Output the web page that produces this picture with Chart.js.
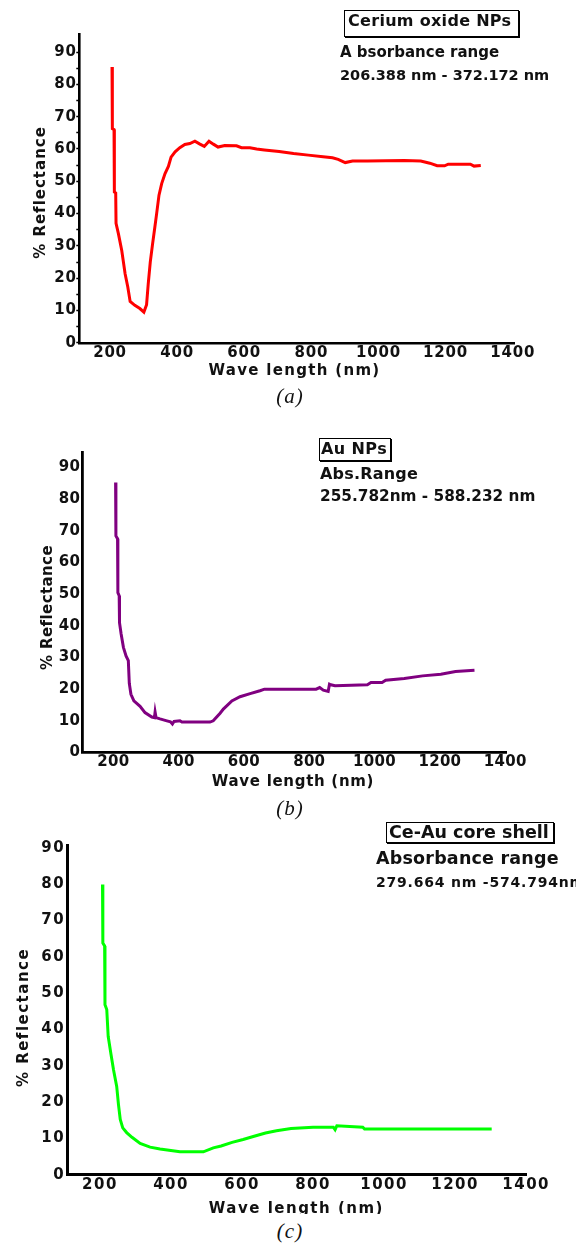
<!DOCTYPE html>
<html>
<head>
<meta charset="utf-8">
<script src="https://cdn.jsdelivr.net/npm/chart.js@4.4.1/dist/chart.umd.min.js"></script>
<style>
html,body{margin:0;padding:0;background:#fff;}
body{width:576px;height:1243px;position:relative;overflow:hidden;font-family:"DejaVu Sans","Liberation Sans",Arial,sans-serif;}
canvas{position:absolute;left:0;}
.t{position:absolute;white-space:nowrap;font-weight:bold;color:#111;line-height:1;}
.box{position:absolute;border:1px solid #000;box-shadow:1px 1px 0 #000;box-sizing:border-box;}
.cap{position:absolute;font-family:"Liberation Serif","Times New Roman",serif;font-style:italic;font-size:21px;letter-spacing:1px;color:#111;line-height:1;transform:translate(-50%,-50%);}
</style>
</head>
<body>
<canvas id="ca" width="576" height="410" style="top:0px"></canvas>
<canvas id="cb" width="576" height="405" style="top:410px"></canvas>
<canvas id="cc" width="576" height="399" style="top:815px"></canvas>

<div class="box" style="left:344px;top:10px;width:175px;height:27px;"></div>
<div class="t" style="left:348px;top:13px;font-size:16px;letter-spacing:0.3px;">Cerium oxide NPs</div>
<div class="t" style="left:340px;top:45px;font-size:15px;">A bsorbance range</div>
<div class="t" style="left:340px;top:67.5px;font-size:14.5px;">206.388 nm - 372.172 nm</div>
<div class="cap" style="left:290px;top:396px;">(a)</div>

<div class="box" style="left:319px;top:438px;width:72px;height:23px;"></div>
<div class="t" style="left:321px;top:441px;font-size:16px;letter-spacing:0.4px;">Au NPs</div>
<div class="t" style="left:320px;top:466px;font-size:16px;letter-spacing:0.2px;">Abs.Range</div>
<div class="t" style="left:320px;top:489px;font-size:15.3px;">255.782nm - 588.232 nm</div>
<div class="cap" style="left:290px;top:808px;">(b)</div>

<div class="box" style="left:386px;top:822px;width:168px;height:21px;"></div>
<div class="t" style="left:389px;top:823.5px;font-size:17.5px;">Ce-Au core shell</div>
<div class="t" style="left:376px;top:849.5px;font-size:17.5px;letter-spacing:0.2px;">Absorbance range</div>
<div class="t" style="left:376px;top:875px;font-size:14px;letter-spacing:0.8px;">279.664 nm -574.794nm</div>
<div class="cap" style="left:290px;top:1231px;">(c)</div>

<script>
// ---- tick labels ----
const xTicks = [200, 400, 600, 800, 1000, 1200, 1400];
const yTicks = [0, 10, 20, 30, 40, 50, 60, 70, 80, 90];
const yMinorTicks = [5, 15, 25, 35, 45, 55, 65, 75, 85];

const xTitle = 'Wave length (nm)';
const yTitle = '% Reflectance';

// ---- (a) Cerium oxide NPs ----
const ceriumWavelength = [206, 207, 212, 213, 217, 218, 225, 235, 245, 253, 260, 274, 289, 301, 309, 314, 320, 327, 333, 339, 346, 354, 364, 374, 382, 394, 408, 423, 438, 453, 468, 481, 495, 508, 522, 542, 577, 592, 617, 637, 660, 704, 747, 791, 835, 863, 880, 901, 923, 967, 1077, 1126, 1153, 1175, 1197, 1208, 1274, 1285, 1305];
const ceriumReflectance = [85.4, 66.3, 66.0, 46.7, 46.4, 37.0, 33.8, 28.6, 21.4, 17.3, 12.8, 11.6, 10.6, 9.5, 11.8, 18.3, 25.0, 30.7, 35.3, 40.0, 45.7, 49.3, 52.4, 54.6, 57.5, 59.1, 60.4, 61.4, 61.7, 62.4, 61.5, 60.8, 62.4, 61.5, 60.6, 61.1, 61.0, 60.4, 60.4, 60.0, 59.7, 59.2, 58.6, 58.1, 57.6, 57.3, 56.8, 55.8, 56.3, 56.3, 56.4, 56.3, 55.6, 54.8, 54.8, 55.3, 55.3, 54.7, 54.9];

// ---- (b) Au NPs ----
const auWavelength = [207, 208, 213, 214, 218, 219, 224, 231, 239, 246, 249, 254, 263, 282, 297, 318, 326, 328, 331, 343, 364, 375, 381, 386, 404, 410, 496, 506, 527, 537, 563, 588, 619, 649, 663, 821, 832, 843, 858, 862, 866, 879, 978, 989, 1023, 1034, 1091, 1147, 1203, 1248, 1306];
const auReflectance = [85.3, 68.4, 67.5, 50.5, 49.5, 41.0, 37.4, 33.2, 30.5, 29.0, 21.8, 18.4, 16.3, 14.6, 12.6, 11.2, 11.0, 12.8, 11.0, 10.6, 10.0, 9.7, 9.0, 9.8, 10.0, 9.6, 9.6, 10.0, 12.4, 13.7, 16.3, 17.6, 18.6, 19.5, 20.0, 20.0, 20.5, 19.7, 19.3, 21.6, 21.4, 21.1, 21.4, 22.1, 22.1, 22.8, 23.4, 24.2, 24.7, 25.6, 26.0];

// ---- (c) Ce-Au core shell ----
const coreShellWavelength = [207, 208, 213, 214, 219, 223, 231, 238, 247, 252, 257, 264, 275, 290, 313, 341, 369, 425, 491, 519, 541, 572, 603, 634, 666, 697, 738, 800, 857, 862, 867, 940, 945, 1303];
const coreShellReflectance = [79.9, 63.8, 63.0, 46.8, 45.5, 38.1, 33.1, 28.9, 24.3, 19.3, 15.2, 12.9, 11.6, 10.3, 8.6, 7.6, 7.1, 6.3, 6.3, 7.4, 7.9, 8.9, 9.7, 10.6, 11.5, 12.1, 12.7, 13.1, 13.1, 12.4, 13.5, 13.1, 12.6, 12.6];

const FONT = '"DejaVu Sans", "Liberation Sans", Arial, sans-serif';

function toPoints(xs, ys) { return xs.map((x, i) => ({ x: x, y: ys[i] })); }

function panel(o) {
  const H = o.canvasH;
  const textPlugin = {
    id: 'txt',
    beforeUpdate(chart) { chart.ctx.letterSpacing = o.tickSpacing + 'px'; },
    beforeDraw(chart) { chart.ctx.letterSpacing = o.tickSpacing + 'px'; },
    afterDraw(chart) {
      const c = chart.ctx;
      c.save();
      c.fillStyle = '#111';
      c.font = 'bold 15px ' + FONT;
      c.textAlign = 'center';
      c.textBaseline = 'middle';
      c.letterSpacing = o.xTitleSpacing + 'px';
      c.fillText(xTitle, o.xTitlePos[0], o.xTitlePos[1] - o.canvasTop);
      c.letterSpacing = o.yTitleSpacing + 'px';
      c.translate(o.yTitlePos[0], o.yTitlePos[1] - o.canvasTop);
      c.rotate(-Math.PI / 2);
      c.fillText(yTitle, 0, 0);
      c.restore();
    }
  };
  const tickFont = { family: FONT, size: 15, weight: 'bold' };
  return new Chart(document.getElementById(o.id), {
    type: 'line',
    data: { datasets: [{ data: toPoints(o.xs, o.ys), borderColor: o.color, borderWidth: 3, pointRadius: 0, tension: 0, fill: false, borderJoinStyle: 'miter' }] },
    options: {
      responsive: false, animation: false, devicePixelRatio: 1,
      layout: { padding: { left: 0, top: o.top - o.canvasTop, right: 576 - o.right, bottom: 0 } },
      plugins: { legend: { display: false }, tooltip: { enabled: false }, title: { display: false } },
      scales: {
        x: {
          type: 'linear', position: 'bottom', min: o.xMin, max: o.xMax,
          afterBuildTicks(s) { s.ticks = xTicks.map(v => ({ value: v })); },
          afterFit(s) { s.height = H - (o.bottom - o.canvasTop); },
          grid: { display: true, drawOnChartArea: false, drawTicks: false },
          border: { display: true, color: '#000', width: o.bw },
          ticks: { autoSkip: false, maxRotation: 0, minRotation: 0, padding: o.xPad, color: '#111', font: tickFont,
            callback: (v) => String(v) }
        },
        y: {
          type: 'linear', position: 'left', min: 0, max: o.yMax,
          afterBuildTicks(s) { s.ticks = o.yTickValues.map(v => ({ value: v })); },
          afterFit(s) { s.width = o.left; },
          grid: { display: true, drawOnChartArea: false, drawTicks: o.yTickMarks, tickLength: 3, tickColor: '#000', tickWidth: 1.5 },
          border: { display: true, color: '#000', width: o.bw },
          ticks: { autoSkip: false, padding: o.yPad, color: '#111', font: tickFont,
            callback: (v) => yTicks.includes(v) ? String(v) : '' }
        }
      }
    },
    plugins: [textPlugin]
  });
}

panel({ id: 'ca', canvasTop: 0, canvasH: 410, left: 79.3, right: 514, top: 34, bottom: 342.8,
  xMin: 108.5, xMax: 1404, yMax: 95.6, color: '#ff0000', bw: 2.6,
  xs: ceriumWavelength, ys: ceriumReflectance,
  yTickValues: yTicks.concat(yMinorTicks).sort((a, b) => a - b), yTickMarks: true,
  tickSpacing: 0.8, xPad: 1, yPad: -0.5,
  xTitlePos: [294.5, 371], xTitleSpacing: 1.3, yTitlePos: [41.5, 192.5], yTitleSpacing: 1.0 });

panel({ id: 'cb', canvasTop: 410, canvasH: 405, left: 82.7, right: 506.5, top: 452, bottom: 752.5,
  xMin: 106.3, xMax: 1404, yMax: 94.9, color: '#800080', bw: 2.8,
  xs: auWavelength, ys: auReflectance,
  yTickValues: yTicks, yTickMarks: false,
  tickSpacing: 0.3, xPad: 1, yPad: 2.5,
  xTitlePos: [293, 781.7], xTitleSpacing: 0.7, yTitlePos: [48.3, 607.5], yTitleSpacing: 0.4 });

panel({ id: 'cc', canvasTop: 815, canvasH: 399, left: 67.2, right: 526.5, top: 845, bottom: 1174.7,
  xMin: 107.6, xMax: 1401, yMax: 90.8, color: '#00ff00', bw: 3,
  xs: coreShellWavelength, ys: coreShellReflectance,
  yTickValues: yTicks, yTickMarks: false,
  tickSpacing: 1.5, xPad: 1, yPad: 2,
  xTitlePos: [296.4, 1209], xTitleSpacing: 1.5, yTitlePos: [23.8, 1017.5], yTitleSpacing: 1.5 });
</script>
</body>
</html>
